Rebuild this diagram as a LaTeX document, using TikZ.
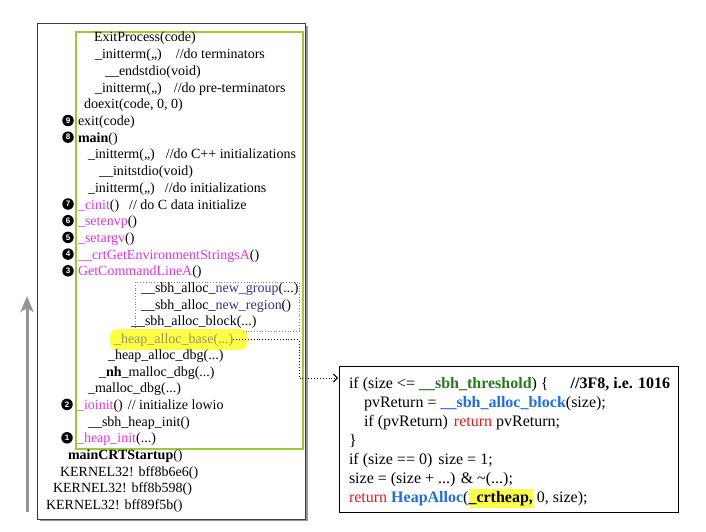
\documentclass[tikz,border=0pt]{standalone}
\usepackage{fontspec}
\setmainfont{Liberation Serif}
\setsansfont{Liberation Sans}
\usetikzlibrary{arrows.meta}

\definecolor{framelime}{RGB}{154,204,50}
\definecolor{crtmag}{RGB}{228,50,228}
\definecolor{sbhnavy}{RGB}{52,52,150}
\definecolor{thrgreen}{RGB}{40,120,30}
\definecolor{fnblue}{RGB}{30,110,230}
\definecolor{kwred}{RGB}{225,30,30}
\definecolor{hiyellow}{RGB}{255,255,70}
\definecolor{dimolive}{RGB}{150,150,95}
\definecolor{shadowgray}{RGB}{150,150,150}
\definecolor{framedark}{RGB}{60,60,60}
\definecolor{upgray}{RGB}{150,150,150}

\tikzset{
  stackline/.style={anchor=base west, inner sep=0pt, outer sep=0pt, font=\fontsize{14}{16}\selectfont},
  codeline/.style={anchor=base west, inner sep=0pt, outer sep=0pt, font=\fontsize{16}{19}\selectfont},
  bullet/.style={circle, fill=black, text=white, inner sep=0pt, minimum size=11.5pt,
                 font=\sffamily\bfseries\fontsize{8}{8}\selectfont},
  callframe/.style={fill=white, draw=framedark, line width=1pt},
  innerframe/.style={draw=framelime, line width=1.1pt},
  sbhframe/.style={draw=gray, dotted, line width=0.8pt},
  jump/.style={draw=black, dotted, line width=0.9pt, -{Straight Barb[length=4pt,width=8pt]}},
  growth/.style={draw=upgray, line width=3pt, -{Stealth[length=16pt,width=13pt,inset=4pt]}}
}
\newcommand{\mg}[1]{\textcolor{crtmag}{#1}}
\newcommand{\nv}[1]{\textcolor{sbhnavy}{#1}}

\begin{document}
\begin{tikzpicture}[x=1pt,y=-1pt]
\useasboundingbox (0,0) rectangle (706,532);

% call stack frame with drop shadow
\fill[shadowgray] (40,26) rectangle (308,521);
\draw[callframe] (37,24) rectangle (305,519);
\draw[innerframe] (76,32) rectangle (303,449);
\draw[sbhframe] (135,282) rectangle (299,331);
\fill[hiyellow, rounded corners=7pt] (110,329) rectangle (247,350);

% stack, top to bottom
\node[stackline] (n0)  at (94,42)    {ExitProcess(code)};
\node[stackline] (n1)  at (95,58.7)  {\_initterm(,,)\hspace{14pt}//do terminators};
\node[stackline] (n2)  at (105,75.4) {\_\_endstdio(void)};
\node[stackline] (n3)  at (95,92.1)  {\_initterm(,,)\hspace{12pt}//do pre-terminators};
\node[stackline] (n4)  at (84,108.8) {doexit(code, 0, 0)};
\node[stackline] (n5)  at (78,125.5) {exit(code)};
\node[stackline] (n6)  at (78,142.2) {\textbf{main}()};
\node[stackline] (n7)  at (88,158.9) {\_initterm(,,)\hspace{11pt}//do C++ initializations};
\node[stackline] (n8)  at (99,175.6) {\_\_initstdio(void)};
\node[stackline] (n9)  at (88,192.3) {\_initterm(,,)\hspace{10pt}//do initializations};
\node[stackline] (n10) at (78,209)   {\mg{\_cinit}()\hspace{10pt}// do C data initialize};
\node[stackline] (n11) at (78,225.7) {\mg{\_setenvp}()};
\node[stackline] (n12) at (78,242.4) {\mg{\_setargv}()};
\node[stackline] (n13) at (78,259.1) {\mg{\_\_crtGetEnvironmentStringsA}()};
\node[stackline] (n14) at (78,275.8) {\mg{GetCommandLineA}()};
\node[stackline] (n15) at (141,292.5) {\_\_sbh\_alloc\_\nv{new\_group}(...)};
\node[stackline] (n16) at (141,309.2) {\_\_sbh\_alloc\_\nv{new\_region}()};
\node[stackline] (n17) at (131,325.9) {\_\_sbh\_alloc\_block(...)};
\node[stackline, text=dimolive] (hab) at (114,343.2) {\_heap\_alloc\_base(...)};
\node[stackline] (n19) at (108,359.3) {\_heap\_alloc\_dbg(...)};
\node[stackline] (n20) at (99,376)   {\_\textbf{nh}\_malloc\_dbg(...)};
\node[stackline] (n21) at (88,392.7) {\_malloc\_dbg(...)};
\node[stackline] (n22) at (77,409.4) {\mg{\_ioinit}()\hspace{5pt}// initialize lowio};
\node[stackline] (n23) at (88,426.1) {\_\_sbh\_heap\_init()};
\node[stackline] (n24) at (77,442.8) {\mg{\_heap\_init}(...)};
\node[stackline] (n25) at (68,459.5) {\textbf{mainCRTStartup}()};
\node[stackline] (n26) at (60,476.2) {KERNEL32! bff8b6e6()};
\node[stackline] (n27) at (53,492.9) {KERNEL32! bff8b598()};
\node[stackline] (n28) at (46,509.6) {KERNEL32! bff89f5b()};

% order of the startup steps
\node[bullet] (b9) at (68,120.5) {9};
\node[bullet] (b8) at (68,137.2) {8};
\node[bullet] (b7) at (68,204)   {7};
\node[bullet] (b6) at (68,220.7) {6};
\node[bullet] (b5) at (68,237.4) {5};
\node[bullet] (b4) at (68,254.1) {4};
\node[bullet] (b3) at (68,270.8) {3};
\node[bullet] (b2) at (67,404.4) {2};
\node[bullet] (b1) at (67,437.8) {1};

% stack growth direction
\coordinate (up0) at (27,512);
\coordinate (up1) at (27,296);
\draw[growth] (up0) -- (up1);

% body of _heap_alloc_base
\node[draw=black, line width=0.9pt, minimum width=339pt, minimum height=146pt,
      anchor=north west, inner sep=0pt] (codebox) at (339,366) {};
\node[codeline] (c1) at (349,388.5) {if (size <= \textcolor{thrgreen}{\textbf{\_\_sbh\_threshold}}) {\{}\hspace{22pt}\textbf{//3F8, i.e. 1016}};
\node[codeline] (c2) at (364,407.5) {pvReturn = \textcolor{fnblue}{\textbf{\_\_sbh\_alloc\_block}}(size);};
\node[codeline] (c3) at (364,426.5) {if (pvReturn)\hspace{6pt}\textcolor{kwred}{return} pvReturn;};
\node[codeline] (c4) at (349,445.5) {\}};
\node[codeline] (c5) at (349,464.5) {if (size == 0)\hspace{6pt}size = 1;};
\node[codeline] (c6) at (349,483.5) {size = (size + ...) \& \textasciitilde(...);};
\node[codeline] (c7) at (349,502.5) {\textcolor{kwred}{return} \textcolor{fnblue}{\textbf{HeapAlloc}}({\setlength{\fboxsep}{0pt}\colorbox{hiyellow}{\strut\textbf{\_crtheap,}}} 0, size);};

% link from the call to its body
\coordinate (kink) at (299,378);
\coordinate (cin) at (338,378);
\draw[jump] (hab.east) -| (kink) -- (cin);
\end{tikzpicture}
\end{document}
